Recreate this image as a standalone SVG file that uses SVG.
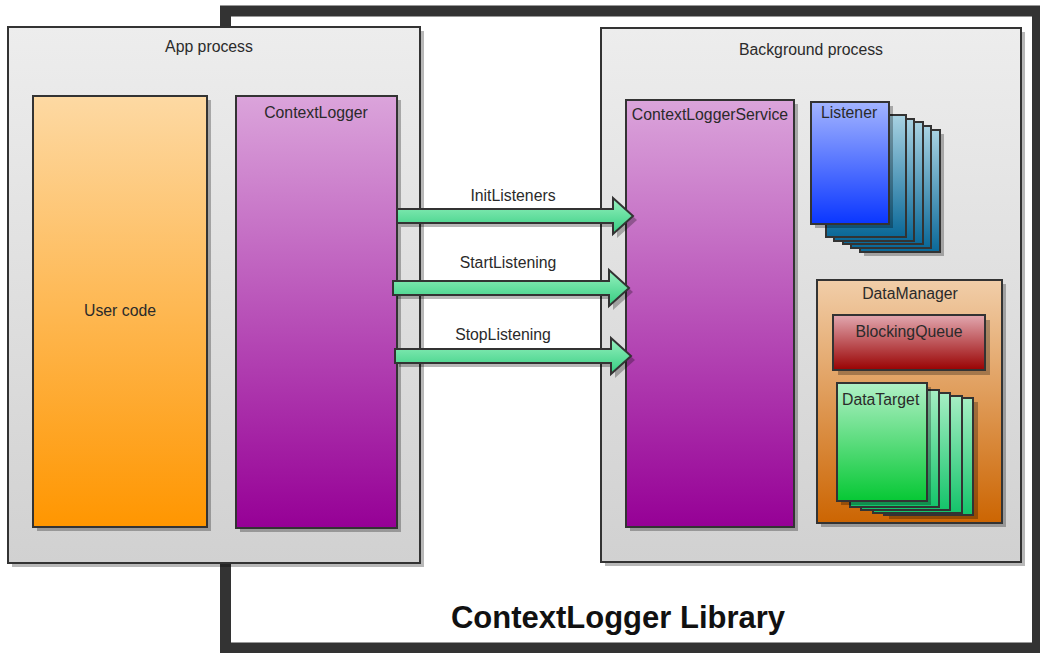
<svg xmlns="http://www.w3.org/2000/svg" width="1040" height="653" viewBox="0 0 1040 653">
<defs>
<linearGradient id="gProc" x1="0" y1="0" x2="0" y2="1"><stop offset="0" stop-color="#ededed"/><stop offset="1" stop-color="#d1d1d1"/></linearGradient>
<linearGradient id="gUser" x1="0" y1="0" x2="0" y2="1"><stop offset="0" stop-color="#fdd9a3"/><stop offset="1" stop-color="#ff9600"/></linearGradient>
<linearGradient id="gPurple" x1="0" y1="0" x2="0" y2="1"><stop offset="0" stop-color="#dba4db"/><stop offset="1" stop-color="#960096"/></linearGradient>
<linearGradient id="gListF" x1="0" y1="0" x2="0" y2="1"><stop offset="0" stop-color="#a3b4ff"/><stop offset="1" stop-color="#0a36ff"/></linearGradient>
<linearGradient id="gListB" x1="0" y1="0" x2="0" y2="1"><stop offset="0" stop-color="#a8d2e2"/><stop offset="1" stop-color="#0a6898"/></linearGradient>
<linearGradient id="gDM" x1="0" y1="0" x2="0" y2="1"><stop offset="0" stop-color="#f1cea9"/><stop offset="1" stop-color="#cc6502"/></linearGradient>
<linearGradient id="gBQ" x1="0" y1="0" x2="0" y2="1"><stop offset="0" stop-color="#e2a8b0"/><stop offset="1" stop-color="#990202"/></linearGradient>
<linearGradient id="gDTF" x1="0" y1="0" x2="0" y2="1"><stop offset="0" stop-color="#b0f0c6"/><stop offset="1" stop-color="#06c834"/></linearGradient>
<linearGradient id="gDTB" x1="0" y1="0" x2="0" y2="1"><stop offset="0" stop-color="#a6eec4"/><stop offset="1" stop-color="#14c46a"/></linearGradient>
<linearGradient id="gArrow" x1="0" y1="0" x2="0" y2="1"><stop offset="0" stop-color="#98f2c0"/><stop offset="1" stop-color="#34cc80"/></linearGradient>
</defs>
<style>
.box{stroke:#333;stroke-width:2}
.shadow{fill:#000;fill-opacity:0.28}
.lbl{font-family:"Liberation Sans",Arial,sans-serif;font-size:15.8px;fill:#2a2a2a}
.mid{text-anchor:middle}
.arrow{fill:url(#gArrow);stroke:#333;stroke-width:2;stroke-linejoin:miter}
</style>
<rect width="1040" height="653" fill="#fff"/>

<g id="library">
<rect x="225.5" y="11" width="812" height="637" fill="#fff" stroke="#333" stroke-width="11"/>
<text x="618" y="628" text-anchor="middle" style="font-family:'Liberation Sans',Arial,sans-serif;font-size:31px;font-weight:bold;fill:#111">ContextLogger Library</text>
</g>

<g id="app-process">
<rect class="shadow" x="12" y="31" width="412" height="536"/>
<rect class="box" x="8" y="27" width="412" height="536" fill="url(#gProc)"/>
<text class="lbl mid" x="209" y="52">App process</text>
</g>

<g id="user-code">
<rect class="shadow" x="37" y="100" width="174" height="431"/>
<rect class="box" x="33" y="96" width="174" height="431" fill="url(#gUser)"/>
<text class="lbl mid" x="120" y="316">User code</text>
</g>

<g id="context-logger">
<rect class="shadow" x="240" y="100" width="161" height="432"/>
<rect class="box" x="236" y="96" width="161" height="432" fill="url(#gPurple)"/>
<text class="lbl mid" x="316" y="118">ContextLogger</text>
</g>

<g id="background-process">
<rect class="shadow" x="605" y="32" width="420" height="534"/>
<rect class="box" x="601" y="28" width="420" height="534" fill="url(#gProc)"/>
<text class="lbl mid" x="811" y="55">Background process</text>
</g>

<g id="context-logger-service">
<rect class="shadow" x="630" y="104" width="168" height="427"/>
<rect class="box" x="626" y="100" width="168" height="427" fill="url(#gPurple)"/>
<text class="lbl mid" x="710" y="120">ContextLoggerService</text>
</g>

<g id="listener">
<rect class="shadow" x="864" y="134" width="80" height="122"/>
<rect class="box" x="860" y="130" width="80" height="122" fill="url(#gListB)"/>
<rect class="box" x="851" y="126" width="80" height="122" fill="url(#gListB)"/>
<rect class="box" x="843" y="122" width="80" height="122" fill="url(#gListB)"/>
<rect class="box" x="834" y="119" width="80" height="122" fill="url(#gListB)"/>
<rect class="box" x="826" y="115" width="80" height="122" fill="url(#gListB)"/>
<rect class="shadow" x="815" y="106" width="78" height="122"/>
<rect class="box" x="811" y="102" width="78" height="122" fill="url(#gListF)"/>
<text class="lbl" x="821" y="118">Listener</text>
</g>

<g id="data-manager">
<rect class="shadow" x="821" y="284" width="185" height="243"/>
<rect class="box" x="817" y="280" width="185" height="243" fill="url(#gDM)"/>
<text class="lbl mid" x="910" y="299">DataManager</text>
</g>

<g id="blocking-queue">
<rect class="shadow" x="838" y="320" width="152" height="55"/>
<rect class="box" x="833" y="315" width="152" height="55" fill="url(#gBQ)"/>
<text class="lbl mid" x="909" y="337">BlockingQueue</text>
</g>

<g id="data-target">
<rect class="shadow" x="889" y="402" width="89" height="117"/>
<rect class="box" x="884" y="398" width="89" height="117" fill="url(#gDTB)"/>
<rect class="box" x="873" y="396" width="89" height="117" fill="url(#gDTB)"/>
<rect class="box" x="861" y="393" width="89" height="117" fill="url(#gDTB)"/>
<rect class="box" x="850" y="390" width="89" height="117" fill="url(#gDTB)"/>
<rect class="shadow" x="841" y="387" width="90" height="118"/>
<rect class="box" x="837" y="383" width="90" height="118" fill="url(#gDTF)"/>
<text class="lbl" x="842" y="405">DataTarget</text>
</g>

<g id="connectors">
<g id="init-listeners">
<polygon class="shadow" points="401,213 617,213 617,202 637,220 617,238 617,227 401,227"/>
<polygon class="arrow" points="397,209 613,209 613,198 633,216 613,234 613,223 397,223"/>
<text class="lbl mid" x="513" y="201">InitListeners</text>
</g>
<g id="start-listening">
<polygon class="shadow" points="397,285 613,285 613,274 633,292 613,310 613,299 397,299"/>
<polygon class="arrow" points="393,281 609,281 609,270 629,288 609,306 609,295 393,295"/>
<text class="lbl mid" x="508" y="268">StartListening</text>
</g>
<g id="stop-listening">
<polygon class="shadow" points="399,353 615,353 615,342 635,360 615,378 615,367 399,367"/>
<polygon class="arrow" points="395,349 611,349 611,338 631,356 611,374 611,363 395,363"/>
<text class="lbl mid" x="503" y="340">StopListening</text>
</g>
</g>
</svg>
